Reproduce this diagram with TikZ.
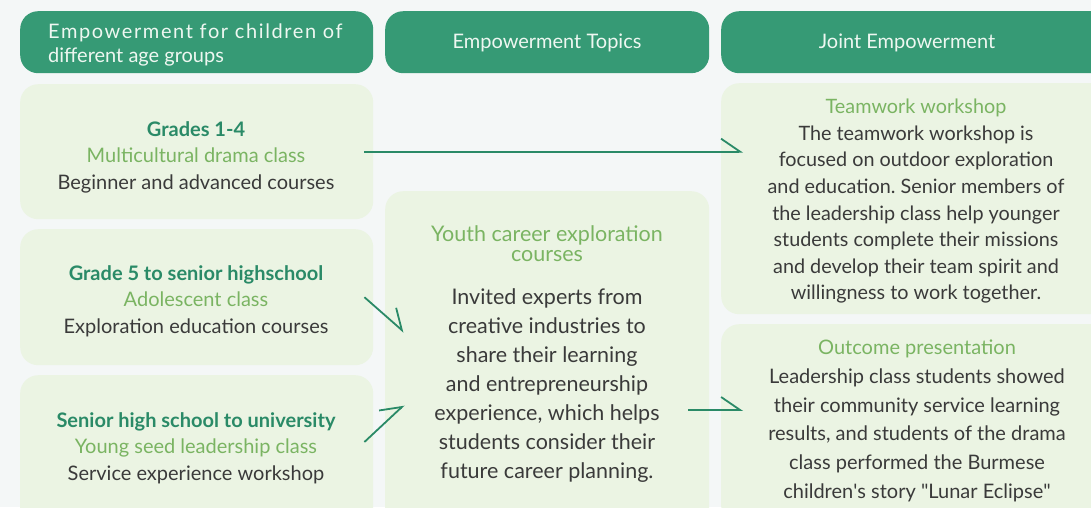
\documentclass[tikz,border=0pt]{standalone}
\usepackage{fontspec}
\setmainfont{Lato}
\usetikzlibrary{arrows.meta}
\definecolor{hdr}{RGB}{54,154,117}
\definecolor{boxc}{RGB}{235,244,227}
\definecolor{bg}{RGB}{244,247,247}
\definecolor{ttl}{RGB}{42,138,103}
\definecolor{sub}{RGB}{122,180,98}
\definecolor{bodyc}{RGB}{58,58,58}
\definecolor{arr}{RGB}{42,138,103}
\definecolor{hdrtext}{RGB}{238,247,241}
\frenchspacing
\begin{document}
\begin{tikzpicture}[x=1pt,y=-1pt,
  hdrbox/.style={fill=hdr, rounded corners=18pt, anchor=north west, inner sep=0pt, minimum height=62pt},
  lbox/.style={fill=boxc, rounded corners=18pt, anchor=north west, inner sep=0pt},
  hdrtxt/.style={text=hdrtext, font=\fontsize{20}{24}\selectfont, inner sep=0pt},
  boxtxt/.style={text=bodyc, align=center, anchor=north, inner sep=0pt},
  conn/.style={draw=arr, line width=1.8pt, -{Straight Barb[left, length=19pt, width=26pt, line width=1.8pt]}}
]
\useasboundingbox (0,0) rectangle (1091,507);
\clip (0,0) rectangle (1091,507);
\fill[bg] (0,0) rectangle (1091,507);

% headers
\node[hdrbox, minimum width=353pt] (h1) at (20,11) {};
\node[hdrbox, minimum width=324pt] (h2) at (385,11) {};
\node[hdrbox, minimum width=400pt] (h3) at (721,11) {};
\node[hdrtxt, align=left, anchor=north west] (h1t) at (48,24)
  {{\addfontfeature{LetterSpace=8}Empowerment for children of}\\different age groups};
\node[hdrtxt] (h2t) at (547,43) {Empowerment Topics};
\node[hdrtxt] (h3t) at (907,43) {Joint Empowerment};

% light boxes
\node[lbox, minimum width=353pt, minimum height=135pt] (b1) at (20,84) {};
\node[lbox, minimum width=353pt, minimum height=136pt] (b2) at (20,229) {};
\node[lbox, minimum width=353pt, minimum height=160pt] (b3) at (20,375) {};
\node[lbox, minimum width=324pt, minimum height=340pt] (b4) at (385,191) {};
\node[lbox, minimum width=400pt, minimum height=231pt] (b5) at (721,83) {};
\node[lbox, minimum width=400pt, minimum height=200pt] (b6) at (721,324) {};

% texts
\node[boxtxt, font=\fontsize{20}{26.5}\selectfont] (t1) at (196,121)
  {\textcolor{ttl}{\bfseries Grades 1-4}\\\textcolor{sub}{Multicultural drama class}\\Beginner and advanced courses};
\node[boxtxt, font=\fontsize{20}{26.5}\selectfont] (t2) at (196,265)
  {\textcolor{ttl}{\bfseries Grade 5 to senior highschool}\\\textcolor{sub}{Adolescent class}\\Exploration education courses};
\node[boxtxt, font=\fontsize{20}{26.5}\selectfont] (t3) at (196,412)
  {\textcolor{ttl}{\bfseries Senior high school to university}\\\textcolor{sub}{Young seed leadership class}\\Service experience workshop};
\node[boxtxt, text=sub, font=\fontsize{21.5}{20}\selectfont] (t4a) at (547,225)
  {Youth career exploration\\courses};
\node[boxtxt, font=\fontsize{21.5}{29}\selectfont] (t4b) at (547,288)
  {Invited experts from\\creative industries to\\share their learning\\and entrepreneurship\\experience, which helps\\students consider their\\future career planning.};
\node[boxtxt, font=\fontsize{19.8}{26.6}\selectfont] (t5) at (916,99)
  {\textcolor{sub}{Teamwork workshop}\\The teamwork workshop is\\focused on outdoor exploration\\and education. Senior members of\\the leadership class help younger\\students complete their missions\\and develop their team spirit and\\willingness to work together.};
\node[boxtxt, font=\fontsize{20}{28.7}\selectfont] (t6) at (917,340)
  {\textcolor{sub}{Outcome presentation}\\Leadership class students showed\\their community service learning\\results, and students of the drama\\class performed the Burmese\\children\textquotesingle s story \textquotedbl Lunar Eclipse\textquotedbl};

% connectors
\draw[conn] ([xshift=-9pt]b1.east) -- ([xshift=22pt]b5.west |- b1.east);
\coordinate (a2s) at ([xshift=-9pt]b2.east);
\coordinate (a2e) at ([xshift=19pt]b4.west |- 0,332);
\draw[conn] (a2s) -- (a2e);
\coordinate (a3s) at ([xshift=-9pt]b3.east |- 0,442);
\coordinate (a3e) at ([xshift=19pt]b4.west |- 0,405);
\draw[conn] (a3s) -- (a3e);
\coordinate (a4s) at ([xshift=-21pt]b4.east |- 0,410);
\coordinate (a4e) at ([xshift=22pt]b6.west |- 0,410);
\draw[conn] (a4s) -- (a4e);
\end{tikzpicture}
\end{document}
